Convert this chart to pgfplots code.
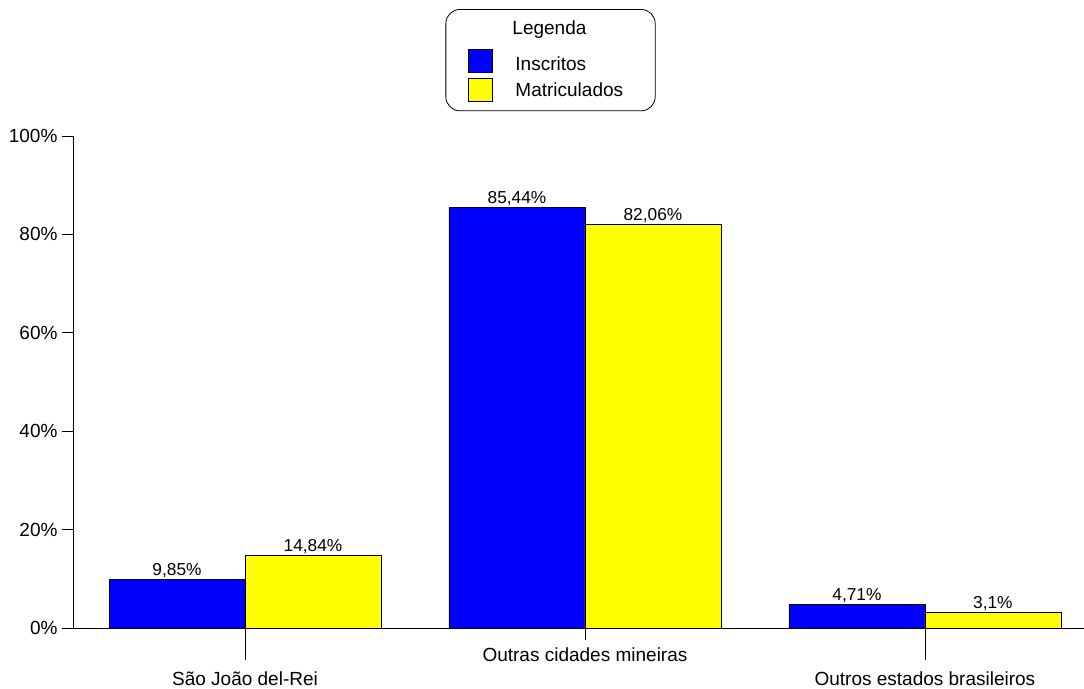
\documentclass[border=0pt]{standalone}
\usepackage{pgfplots}
\usepackage{pgfplotstable}
\pgfplotsset{compat=1.18}
\usepackage{fontspec}
\setmainfont{Liberation Sans}
\definecolor{barblue}{RGB}{0,0,255}
\definecolor{baryellow}{RGB}{255,255,0}
\pgfplotstableread{
x y lab
0 9.85 9,85\%
1 85.44 85,44\%
2 4.71 4,71\%
}\inscritos
\pgfplotstableread{
x y lab
0 14.84 14,84\%
1 82.06 82,06\%
2 3.1 3,1\%
}\matriculados
\begin{document}
\begin{tikzpicture}[x=1pt,y=1pt]
\path[use as bounding box] (0,0) rectangle (1084,688);
\begin{axis}[
  at={(73pt,60pt)}, anchor=south west,
  scale only axis, width=1011pt, height=492pt,
  xmin=-0.506, xmax=2.468, ymin=0, ymax=100,
  axis x line*=bottom, axis y line*=left,
  axis line style={black, line width=0.8pt},
  tick style={black, line width=0.8pt},
  tick align=outside,
  major tick length=32pt,
  ytick=\empty,
  extra y ticks={0,20,40,60,80,100},
  extra y tick labels={0\%,20\%,40\%,60\%,80\%,100\%},
  extra y tick style={major tick length=11pt, yticklabel style={font=\fontsize{19}{21}\selectfont, xshift=-1pt}},
  xtick={0,2},
  xticklabels={São João del-Rei,Outros estados brasileiros},
  xticklabel style={font=\fontsize{19}{21}\selectfont, anchor=north, yshift=-8pt},
  extra x ticks={1},
  extra x tick labels={Outras cidades mineiras},
  extra x tick style={major tick length=12pt, xticklabel style={yshift=3.5pt}},
  clip=false,
  legend style={at={(0.4723,1.258)}, anchor=north, draw=black, line width=0.8pt,
    rounded corners=14pt, font=\fontsize{19}{21}\selectfont,
    inner xsep=22pt, inner ysep=9pt, row sep=4pt,
    /tikz/every even column/.append style={column sep=0pt}},
  legend cell align=left,
  nodes near coords,
  point meta=explicit symbolic,
  every node near coord/.append style={font=\fontsize{17.3}{19}\selectfont, black, anchor=south, yshift=-2pt},
]
\addlegendimage{empty legend}
\addlegendentry{\hspace*{18pt}Legenda}
\addlegendimage{legend image code/.code={\draw[sharp corners,fill=barblue,draw=black,line width=0.6pt] (0pt,-14pt) rectangle (24pt,9pt);}}
\addlegendentry{\hspace*{21pt}Inscritos\rule{0pt}{27pt}}
\addlegendimage{legend image code/.code={\draw[sharp corners,fill=baryellow,draw=black,line width=0.6pt] (0pt,-11.5pt) rectangle (24pt,11.5pt);}}
\addlegendentry{\hspace*{21pt}Matriculados\hspace*{8pt}\rule[-6pt]{0pt}{6pt}}
\addplot[ybar, bar width=0.4, bar shift=0, fill=barblue, draw=black, line width=0.8pt, forget plot]
  table[x expr=\thisrow{x}-0.2, y=y, meta=lab] {\inscritos};
\addplot[ybar, bar width=0.4, bar shift=0, fill=baryellow, draw=black, line width=0.8pt, forget plot]
  table[x expr=\thisrow{x}+0.2, y=y, meta=lab] {\matriculados};
\end{axis}
\end{tikzpicture}
\end{document}
